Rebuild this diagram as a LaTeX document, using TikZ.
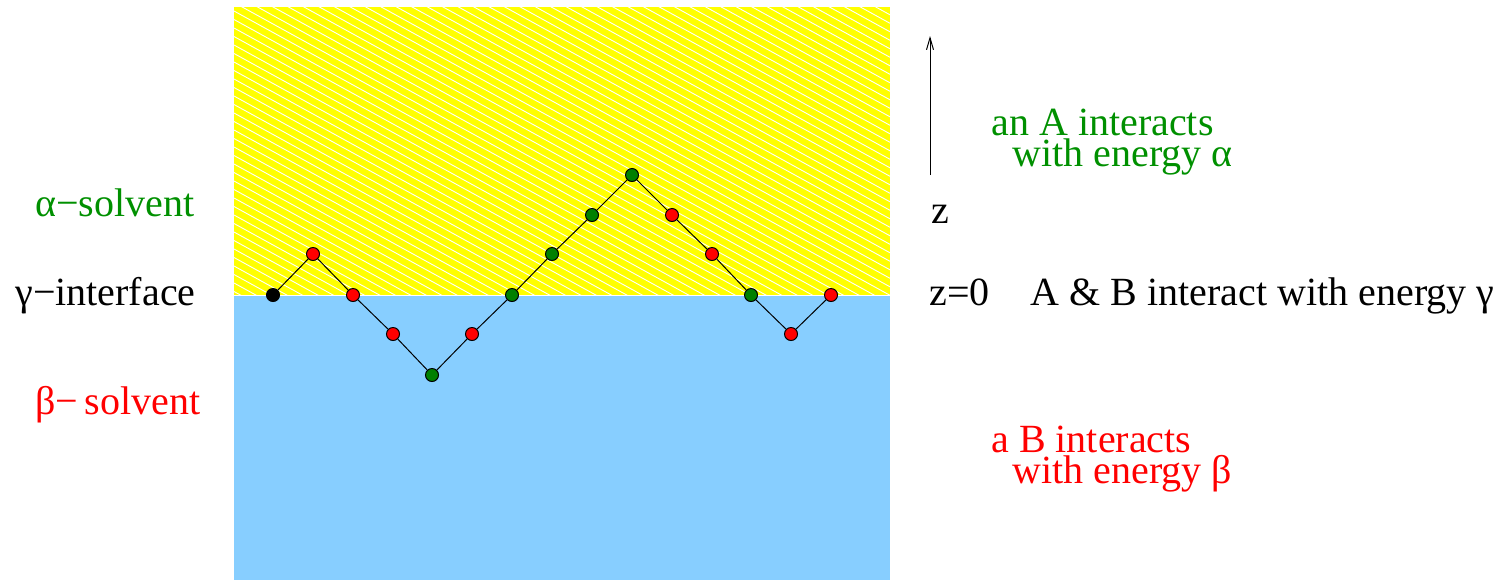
\documentclass[tikz,border=0pt]{standalone}
\usepackage{fontspec}
\setmainfont{Liberation Serif}
\usetikzlibrary{arrows.meta}
\definecolor{fgreen}{RGB}{0,144,0}
\definecolor{dgreen}{RGB}{0,128,0}
\definecolor{fred}{RGB}{255,0,0}
\definecolor{fyellow}{RGB}{255,255,0}
\definecolor{fblue}{RGB}{135,206,255}
\tikzset{
  bead/.style={circle,draw=black,line width=0.5pt,inner sep=0pt,minimum size=6.5pt},
  beadr/.style={bead,fill=fred},
  beadg/.style={bead,fill=dgreen},
  beadk/.style={bead,fill=black},
  bond/.style={draw=black,line width=0.5pt},
  lbl/.style={anchor=base west,inner sep=0pt,font=\fontsize{20pt}{15.5pt}\selectfont},
  twoline/.style={lbl,align=left},
}
\begin{document}
\begin{tikzpicture}[x=0.5pt,y=-0.5pt]
\useasboundingbox (0,0) rectangle (1508,580);
% regions
\fill[fyellow] (234,7) rectangle (890,294.5);
\begin{scope}
  \clip (234,7) rectangle (890,294.5);
  \foreach \k in {0,...,80} {
    \draw[white,line width=0.45pt] (234,{-380+8.5*\k}) -- (890,{-380+8.5*\k+0.55*656});
  }
\end{scope}
\fill[fblue] (234,296) rectangle (890,580);
% chain
\node[beadk] (b1) at (273,295) {};
\node[beadr] (b2) at (313,254) {};
\node[beadr] (b3) at (353,295) {};
\node[beadr] (b4) at (393,334) {};
\node[beadg] (b5) at (432,375) {};
\node[beadr] (b6) at (472,334) {};
\node[beadg] (b7) at (512,295) {};
\node[beadg] (b8) at (552,254) {};
\node[beadg] (b9) at (592,215) {};
\node[beadg] (b10) at (632,175) {};
\node[beadr] (b11) at (672,215) {};
\node[beadr] (b12) at (712,254) {};
\node[beadg] (b13) at (751,295) {};
\node[beadr] (b14) at (791,334) {};
\node[beadr] (b15) at (831,295) {};
\foreach \a/\b in {1/2,2/3,3/4,4/5,5/6,6/7,7/8,8/9,9/10,10/11,11/12,12/13,13/14,14/15}
  \draw[bond] (b\a) -- (b\b);
% left labels
\node[lbl,text=fgreen] (alab) at (35,216) {α−solvent};
\node[lbl,text=black] (glab) at (15,305) {γ−interface};
\node[lbl,text=fred] (blab) at (35,414) {β−\,solvent};
% z axis
\coordinate (zbot) at (930,175);
\coordinate (ztop) at (930,36);
\draw[line width=0.5pt,-{Straight Barb[length=6pt,width=3.5pt]}] (zbot) -- (ztop);
\node[lbl] (zlab) at (931,223) {z};
\node[lbl] (z0) at (929,305) {z=0\hspace{20.5pt}A \& B interact with energy γ};
% right labels
\node[twoline,text=fgreen] (atext) at (991,166) {an A interacts\\\hspace{10.5pt}with energy α};
\node[twoline,text=fred] (btext) at (991,483) {a B interacts\\\hspace{10.5pt}with energy β};
\end{tikzpicture}
\end{document}
